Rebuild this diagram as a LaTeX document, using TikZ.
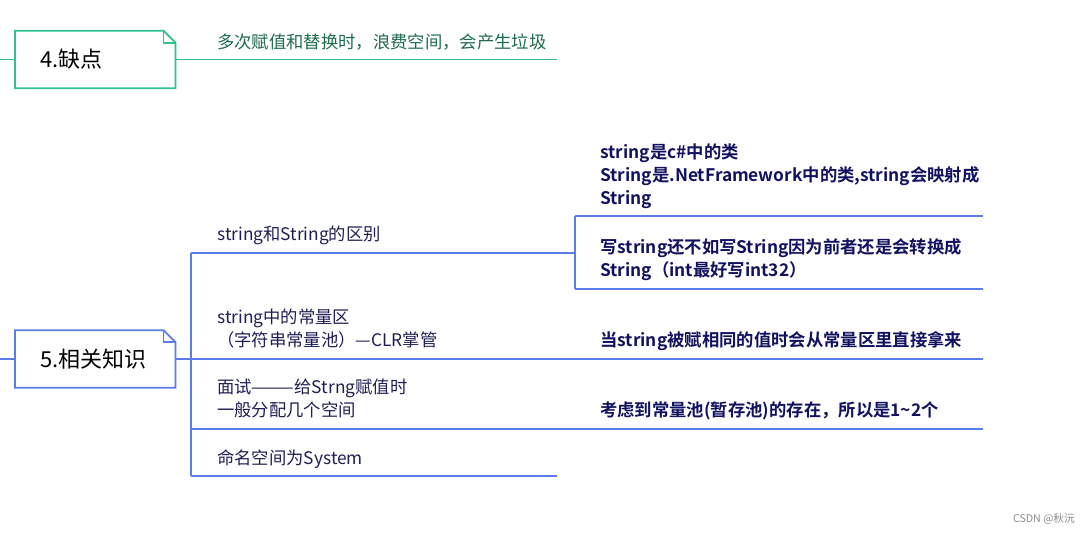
\documentclass[tikz,border=0pt]{standalone}
\usepackage{fontspec}
\setmainfont{Noto Sans CJK SC}[BoldFont={Noto Sans CJK SC Bold}]
\tikzset{>=latex}
\definecolor{mmgreen}{HTML}{2EC28A}
\definecolor{mmgreentext}{HTML}{1D6B4C}
\definecolor{mmblue}{HTML}{5C7CEB}
\definecolor{mmtext}{HTML}{1E1E55}
\definecolor{mmbold}{HTML}{111160}

\begin{document}
\begin{tikzpicture}[x=0.75pt,y=-0.75pt,
  topic/.style={anchor=west,inner xsep=18.75pt,inner ysep=0pt,text width=82.5pt,
    minimum height=42.75pt,align=left,font=\fontsize{16.5}{20}\selectfont,text=black},
  leaf/.style={anchor=base west,inner sep=0pt,align=left,text=mmtext,
    font=\fontsize{13}{17}\selectfont},
  note/.style={leaf,text=mmbold,font=\fontsize{13}{17}\selectfont\bfseries},
  branch/.style={line width=1pt}]
  \useasboundingbox (0,0) rectangle (1090,533);

  \node[topic] (weak) at (15,59.5) {4.缺点};
  \draw[mmgreen,line width=1.3pt] (weak.north west) -- ([xshift=-9pt]weak.north east)
    -- ([yshift=-9pt]weak.north east) -- (weak.south east) -- (weak.south west) -- cycle;
  \draw[mmgreen,line width=1.3pt] ([xshift=-9pt]weak.north east) -- ([xshift=-9pt,yshift=-9pt]weak.north east)
    -- ([yshift=-9pt]weak.north east);
  \coordinate (weakend) at (557,59.5);
  \draw[mmgreen,branch] (0,59.5) -- (weak.west);
  \draw[mmgreen,branch] (weak.east) -- (weakend);
  \node[leaf,text=mmgreentext] (waste) at (217,48) {多次赋值和替换时，浪费空间，会产生垃圾};

  \node[topic] (rel) at (15,359) {5.相关知识};
  \draw[mmblue,line width=1.3pt] (rel.north west) -- ([xshift=-9pt]rel.north east)
    -- ([yshift=-9pt]rel.north east) -- (rel.south east) -- (rel.south west) -- cycle;
  \draw[mmblue,line width=1.3pt] ([xshift=-9pt]rel.north east) -- ([xshift=-9pt,yshift=-9pt]rel.north east)
    -- ([yshift=-9pt]rel.north east);

  \coordinate (hub) at (191,359);
  \coordinate (b1) at (191,253);
  \coordinate (b4) at (191,476);
  \coordinate (e1) at (557,253);
  \coordinate (e2) at (557,359);
  \coordinate (e3) at (557,429);
  \coordinate (e4) at (557,476);
  \coordinate (fork) at (575,253);
  \coordinate (c1) at (575,216);
  \coordinate (c2) at (575,289);

  \draw[mmblue,branch] (0,359) -- (rel.west);
  \draw[mmblue,branch] (rel.east) -- (hub);
  \draw[mmblue,branch] (b1) -- (b4);
  \draw[mmblue,branch] (b1) -- (e1) -- (fork);
  \draw[mmblue,branch] (c1) -- (c2);
  \draw[mmblue,branch] (c1) -- (983,216);
  \draw[mmblue,branch] (c2) -- (983,289);
  \draw[mmblue,branch] (hub) -- (e2) -- (983,359);
  \draw[mmblue,branch] (191,429) -- (e3) -- (983,429);
  \draw[mmblue,branch] (b4) -- (e4);

  \node[leaf] (diff) at (217,240) {string和String的区别};
  \node[leaf] (pool) at (217,346) {string中的常量区\\（字符串常量池）—CLR掌管};
  \node[leaf] (quiz) at (217,416) {面试———给Strng赋值时\\一般分配几个空间};
  \node[leaf] (ns) at (217,464) {命名空间为System};

  \node[note] (cls) at (600,204) {string是c\#中的类\\String是.NetFramework中的类,string会映射成\\String};
  \node[note] (conv) at (600,276) {写string还不如写String因为前者还是会转换成\\String（int最好写int32）};
  \node[note] (same) at (600,346) {当string被赋相同的值时会从常量区里直接拿来};
  \node[note] (cnt) at (600,416) {考虑到常量池(暂存池)的存在，所以是1\textasciitilde2个};

  \node[anchor=base east,inner sep=0pt,text=black!45,font=\fontsize{8}{10}\selectfont] (mark) at (1075,522) {CSDN @秋沅};
\end{tikzpicture}
\end{document}
